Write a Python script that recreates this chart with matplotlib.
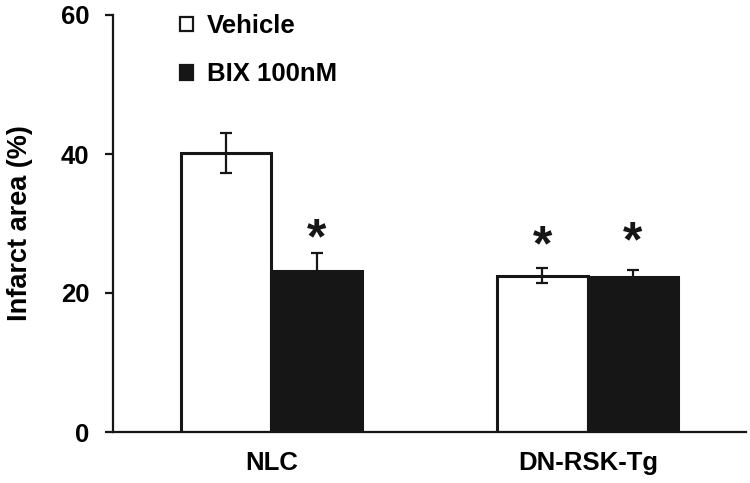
import matplotlib
matplotlib.use("Agg")
import matplotlib.pyplot as plt
from matplotlib.patches import Patch
import numpy as np

groups = ["NLC", "DN-RSK-Tg"]
series = ["Vehicle", "BIX 100nM"]
vehicle = [40.1, 22.5]
vehicle_err = [2.9, 1.1]
bix = [23.2, 22.3]
bix_err = [2.5, 1.0]
# significance markers: (group index, series index, y position)
star_group = [0, 1, 1]
star_series = [1, 0, 1]
star_y = [29.2, 28.2, 28.8]
yticks = [0, 20, 40, 60]

plt.rcParams['font.family'] = ['Liberation Sans', 'DejaVu Sans']
plt.rcParams['font.weight'] = 'bold'

fig = plt.figure(figsize=(7.5, 4.83), dpi=100)
ax = fig.add_axes([113/750, 1-432/483, (746-113)/750, (432-15)/483])

x = np.arange(len(groups))
w = 0.286
fills = ['white', '#161616']
vals = [vehicle, bix]
errs = [vehicle_err, bix_err]
offs = [-w/2, w/2]
for i in range(2):
    ax.bar(x + offs[i], vals[i], width=w, color=fills[i], edgecolor='#161616',
           linewidth=2.2, zorder=2)
    ax.errorbar(x + offs[i], vals[i], yerr=errs[i], fmt='none', ecolor='#161616',
                elinewidth=1.6, capsize=4.3, capthick=1.6, zorder=3)

for g, s, yv in zip(star_group, star_series, star_y):
    ax.annotate('*', xy=(x[g] + offs[s], yv), xytext=(0, -8), textcoords='offset points',
                ha='center', va='center', fontsize=36, fontweight='bold', color='#161616')

ax.set_xlim(-0.5, 1.5)
ax.set_ylim(0, 60)
ax.set_yticks(yticks)
ax.set_yticklabels([str(t) for t in yticks])
ax.set_xticks(x)
ax.set_xticklabels(groups)
ax.spines['top'].set_visible(False)
ax.spines['right'].set_visible(False)
for sp in ['left', 'bottom']:
    ax.spines[sp].set_linewidth(1.6)
    ax.spines[sp].set_color('#161616')
ax.tick_params(axis='y', length=6, width=1.6, pad=11, labelsize=18.5, color='#161616')
ax.tick_params(axis='x', length=0, pad=14, labelsize=18.5)
for lab in ax.get_xticklabels() + ax.get_yticklabels():
    lab.set_fontweight('bold')

ax.set_ylabel("Infarct area (%)", fontsize=19.5, fontweight='bold')
ax.yaxis.set_label_coords(-0.127, 0.5)

handles = [Patch(facecolor=fills[0], edgecolor='#161616', linewidth=1.6),
           Patch(facecolor=fills[1], edgecolor='#161616', linewidth=1.6)]
leg = fig.legend(handles, series, loc='upper left', bbox_to_anchor=(180/750, 1-14/483),
                 frameon=False, fontsize=18.5, handlelength=0.5, handleheight=0.5,
                 handletextpad=0.55, labelspacing=0.95, borderpad=0, borderaxespad=0,
                 prop={'weight': 'bold', 'size': 18.5})

fig.savefig("out.png", dpi=100)
